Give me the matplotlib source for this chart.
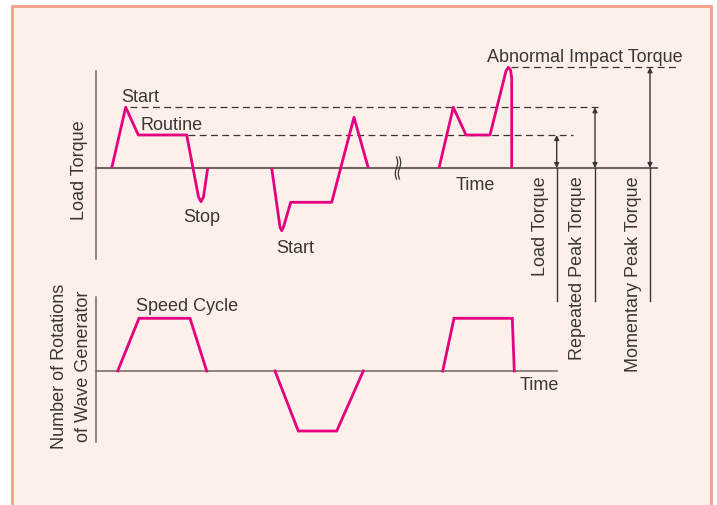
import matplotlib
matplotlib.use("Agg")
import matplotlib.pyplot as plt
from matplotlib.patches import Rectangle
import numpy as np

plt.rcParams['font.family'] = ['Liberation Sans', 'DejaVu Sans']

# ---------------- data (schematic units) ----------------
# Load torque waveform segments: time, torque
torque_t1 = [1.57, 2.97, 4.23, 9.07, 10.25, 10.5, 10.75, 11.17]
torque_v1 = [0.0, 6.07, 3.3, 3.3, -2.9, -3.37, -2.9, 0.0]
torque_t2 = [17.57, 18.4, 18.57, 18.75, 19.47, 23.57, 25.8, 27.23]
torque_v2 = [0.0, -5.9, -6.27, -5.9, -3.43, -3.43, 5.07, 0.0]
torque_t3 = [34.3, 35.73, 37.0, 39.4, 41.0, 41.23, 41.45, 41.57, 41.57]
torque_v3 = [0.0, 6.07, 3.3, 3.3, 9.7, 10.07, 9.8, 9.0, 0.0]

# reference levels
routine_level = 3.3
repeated_peak_level = 6.07
momentary_peak_level = 10.07

# speed cycle segments: time, speed
speed_t1 = [2.17, 4.3, 9.4, 11.07]
speed_v1 = [0.0, 5.27, 5.27, 0.0]
speed_t2 = [17.9, 20.23, 24.07, 26.73]
speed_v2 = [0.0, -6.0, -6.0, 0.0]
speed_t3 = [34.67, 35.8, 41.63, 41.83]
speed_v3 = [0.0, 5.27, 5.27, 0.0]

# ---------------- styling ----------------
W, H = 717, 506
MAG = '#e5007f'
AX = '#6e6565'
TXT = '#3a3636'
DASH = '#3a3636'
FS = 13

fig = plt.figure(figsize=(W / 100, H / 100), dpi=100)
fig.patch.set_facecolor('white')
fig.patches.append(Rectangle((12 / W, -0.02), (711 - 12) / W, (H - 7) / H + 0.02,
                             transform=fig.transFigure, facecolor='#fdefea',
                             edgecolor='#f69e86', linewidth=2.0, zorder=-10))


def px_axes(x0, x1, y0, y1):
    # axes placed over pixel box (y measured from top)
    a = fig.add_axes([x0 / W, (H - y1) / H, (x1 - x0) / W, (y1 - y0) / H])
    a.set_zorder(5)
    a.patch.set_alpha(0)
    return a


# ---- Torque panel: time = (px-96)/10, torque = (169-py)/10
axT = px_axes(96, 700, 60, 260)
axT.set_xlim(0, 60.4)
axT.set_ylim(-9.1, 10.9)
axT.axis('off')

# axes lines
axT.plot([0, 0], [9.7, -9.1], color=AX, lw=1.1, clip_on=False)
axT.plot([0, 56.1], [0, 0], color=AX, lw=1.5, clip_on=False)
# break symbol
for dx in (30.05, 30.35):
    yy = np.linspace(-1.1, 1.1, 40)
    axT.plot(dx + 0.12 * np.sin(yy / 1.1 * np.pi), yy, color=TXT, lw=0.9, zorder=3)

# dashed reference lines
dash = dict(color=DASH, lw=0.9, linestyle=(0, (5.5, 3.5)))
axT.plot([3.4, 50.2], [repeated_peak_level] * 2, **dash)
axT.plot([9.2, 47.7], [routine_level] * 2, **dash)
axT.plot([41.5, 58.1], [momentary_peak_level] * 2, **dash)

# waveform
for tt, vv in ((torque_t1, torque_v1), (torque_t2, torque_v2), (torque_t3, torque_v3)):
    axT.plot(tt, vv, color=MAG, lw=2.0, solid_joinstyle='round', solid_capstyle='butt', zorder=4)

# double arrows + extension lines
for xa, lev in ((46.07, routine_level), (49.9, repeated_peak_level), (55.4, momentary_peak_level)):
    axT.annotate('', xy=(xa, lev), xytext=(xa, 0), annotation_clip=False,
                 arrowprops=dict(arrowstyle='<|-|>', mutation_scale=7, lw=1.0,
                                 color=TXT, shrinkA=0, shrinkB=0))
    axT.plot([xa, xa], [0, -13.3], color=TXT, lw=1.0, clip_on=False)

# labels
tk = dict(color=TXT, fontsize=FS, va='baseline', ha='left', clip_on=False)
axT.text(2.5, 6.73, 'Start', **tk)
axT.text(4.5, 3.9, 'Routine', **tk)
axT.text(8.73, -5.27, 'Stop', **tk)
axT.text(18.07, -8.37, 'Start', **tk)
axT.text(36.0, -2.1, 'Time', **tk)
axT.text(39.1, 10.7, 'Abnormal Impact Torque', **tk)
rk = dict(color=TXT, fontsize=FS, rotation=90, ha='center', va='top', clip_on=False)
axT.text(44.43, -0.77, 'Load Torque', **rk)
axT.text(48.2, -0.77, 'Repeated Peak Torque', **rk)
axT.text(53.8, -0.77, 'Momentary Peak Torque', **rk)
axT.text(-1.6, -0.1, 'Load Torque', color=TXT, fontsize=FS, rotation=90,
         ha='center', va='center', clip_on=False)

# ---- Speed panel: time = (px-96)/10, speed = (372-py)/10
axS = px_axes(96, 700, 290, 450)
axS.set_xlim(0, 60.4)
axS.set_ylim(-7.8, 8.2)
axS.axis('off')

axS.plot([0, 0], [7.4, -7.1], color=AX, lw=1.1, clip_on=False)
axS.plot([0, 46.07], [0, 0], color=AX, lw=1.1, clip_on=False)
for tt, vv in ((speed_t1, speed_v1), (speed_t2, speed_v2), (speed_t3, speed_v3)):
    axS.plot(tt, vv, color=MAG, lw=2.0, solid_joinstyle='miter', zorder=4)

axS.text(3.97, 6.13, 'Speed Cycle', **tk)
axS.text(42.4, -1.8, 'Time', **tk)
axS.text(-3.6, 0.53, 'Number of Rotations', color=TXT, fontsize=FS, rotation=90,
         ha='center', va='center', clip_on=False)
axS.text(-1.2, 0.53, 'of Wave Generator', color=TXT, fontsize=FS, rotation=90,
         ha='center', va='center', clip_on=False)

fig.savefig('out.png', dpi=100, facecolor='white')
